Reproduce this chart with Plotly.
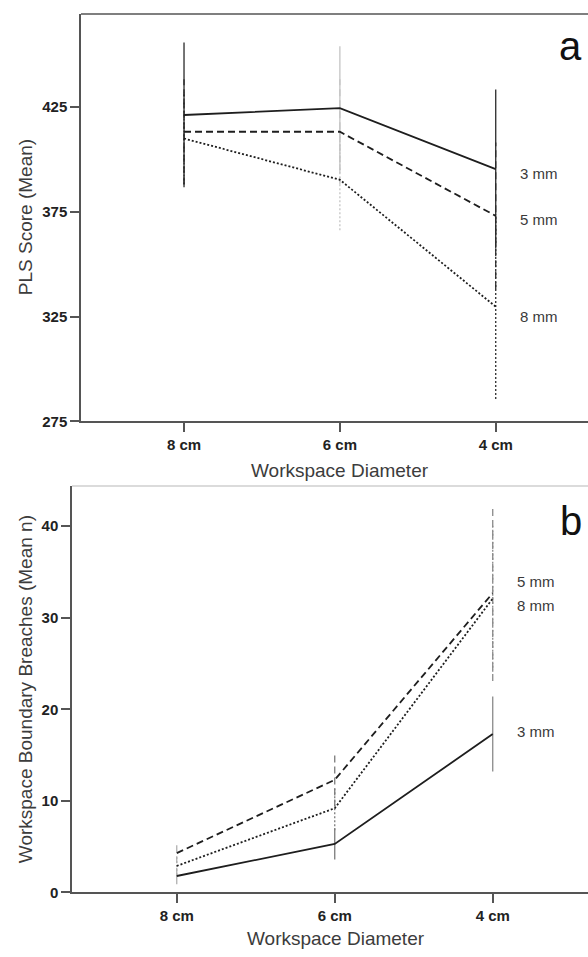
import plotly.graph_objects as go

# ---- data -------------------------------------------------------------
diameters = ["8 cm", "6 cm", "4 cm"]
tool_sizes = ["3 mm", "5 mm", "8 mm"]

# PLS score, mean and error-bar half width per tool size
pls_3mm = [421.1, 424.4, 395.3]
pls_5mm = [413.1, 413.1, 373.0]
pls_8mm = [409.9, 390.2, 329.7]
pls_3mm_err = [34.5, 29.5, 38.0]
pls_5mm_err = [25.0, 25.0, 35.0]
pls_8mm_err = [22.0, 24.0, 44.0]

# Workspace boundary breaches, mean and error-bar half width
brc_3mm = [1.8, 5.3, 17.3]
brc_5mm = [4.3, 12.3, 32.7]
brc_8mm = [2.9, 9.2, 32.1]
brc_3mm_err = [0.9, 1.7, 4.1]
brc_5mm_err = [1.1, 2.9, 9.6]
brc_8mm_err = [1.0, 2.4, 8.0]

pls_ticks = [275, 325, 375, 425]
brc_ticks = [0, 10, 20, 30, 40]

# ---- styling ----------------------------------------------------------
W, H = 588, 957
FONT = "Liberation Sans, Arial, Helvetica, sans-serif"
AXIS_COL = "#555555"
LINE_COL = "#1e1e1e"
DASH = {"3 mm": "solid", "5 mm": "7px,4px", "8 mm": "2px,2px"}
xpos = list(range(len(diameters)))


def px_x(p):
    return p / W


def px_y(p):
    return 1 - p / H


fig = go.Figure()

panels = [
    dict(xa="x", ya="y",
         means={"3 mm": pls_3mm, "5 mm": pls_5mm, "8 mm": pls_8mm},
         errs={"3 mm": pls_3mm_err, "5 mm": pls_5mm_err, "8 mm": pls_8mm_err},
         bar_cols=["#2a2a2a", "#c4c4c4", "#2a2a2a"],
         label_shift={"3 mm": -4, "5 mm": -4, "8 mm": -10}),
    dict(xa="x2", ya="y2",
         means={"3 mm": brc_3mm, "5 mm": brc_5mm, "8 mm": brc_8mm},
         errs={"3 mm": brc_3mm_err, "5 mm": brc_5mm_err, "8 mm": brc_8mm_err},
         bar_cols=["#b0b0b0", "#7a7a7a", "#8a8a8a"],
         label_shift={"3 mm": 3, "5 mm": 12, "8 mm": -7}),
]

annotations = []
for pnl in panels:
    # error bars first, dotted series underneath, solid on top
    for size in ["8 mm", "5 mm", "3 mm"]:
        m, e = pnl["means"][size], pnl["errs"][size]
        for i in xpos:
            fig.add_trace(go.Scatter(
                x=[i, i], y=[m[i] - e[i], m[i] + e[i]],
                mode="lines", xaxis=pnl["xa"], yaxis=pnl["ya"],
                line=dict(color=pnl["bar_cols"][i], width=1.3, dash=DASH[size]),
                hoverinfo="skip", showlegend=False))
    for size in ["8 mm", "5 mm", "3 mm"]:
        m = pnl["means"][size]
        fig.add_trace(go.Scatter(
            x=xpos, y=m, mode="lines", name=size,
            xaxis=pnl["xa"], yaxis=pnl["ya"],
            line=dict(color=LINE_COL, width=1.8, dash=DASH[size]),
            showlegend=False))
        annotations.append(dict(
            x=xpos[-1], y=m[-1], xref=pnl["xa"], yref=pnl["ya"],
            text=size, showarrow=False, xanchor="left", yanchor="middle",
            xshift=22, yshift=pnl["label_shift"][size],
            font=dict(family=FONT, size=15, color="#3a3a3a")))

# panel letters
annotations.append(dict(x=px_x(570), y=px_y(46), xref="paper", yref="paper",
                        text="a", showarrow=False, xanchor="center", yanchor="middle",
                        font=dict(family=FONT, size=40, color="#111111")))
annotations.append(dict(x=px_x(571), y=px_y(525), xref="paper", yref="paper",
                        text="b", showarrow=False, xanchor="center", yanchor="middle",
                        font=dict(family=FONT, size=40, color="#111111")))

# axis titles
title_font = dict(family=FONT, size=19, color="#3c3c3c")
annotations += [
    dict(x=px_x(340), y=px_y(474), xref="paper", yref="paper",
         text="Workspace Diameter", showarrow=False, font=title_font,
         xanchor="center", yanchor="middle"),
    dict(x=px_x(336), y=px_y(946), xref="paper", yref="paper",
         text="Workspace Diameter", showarrow=False, font=title_font,
         xanchor="center", yanchor="middle"),
    dict(x=px_x(25), y=px_y(219), xref="paper", yref="paper",
         text="PLS Score (Mean)", showarrow=False, font=title_font, textangle=-90,
         xanchor="center", yanchor="middle"),
    dict(x=px_x(25), y=px_y(695), xref="paper", yref="paper",
         text="Workspace Boundary Breaches (Mean n)", showarrow=False,
         font=title_font, textangle=-90, xanchor="center", yanchor="middle"),
]

tick_font = dict(family=FONT, size=15, color="#222222", weight="bold")
common_x = dict(tickmode="array", tickvals=xpos, ticktext=diameters,
                ticks="outside", ticklen=9, tickwidth=1.5, tickcolor=AXIS_COL,
                showline=True, linecolor=AXIS_COL, linewidth=1.5,
                showgrid=False, zeroline=False, tickfont=tick_font)
common_y = dict(tickmode="array", ticks="outside", ticklen=9, tickwidth=1.5,
                tickcolor=AXIS_COL, showline=True, linecolor=AXIS_COL,
                linewidth=1.5, showgrid=False, zeroline=False, tickfont=tick_font)

fig.update_layout(
    width=W, height=H,
    margin=dict(l=0, r=0, t=0, b=0),
    paper_bgcolor="white", plot_bgcolor="white",
    font=dict(family=FONT),
    xaxis=dict(domain=[px_x(81), 1.0], range=[-0.661, 2.592],
               anchor="y", **common_x),
    yaxis=dict(domain=[px_y(425), px_y(14)], range=[275, 469.3], anchor="x",
               tickvals=pls_ticks, **common_y),
    xaxis2=dict(domain=[px_x(72), 1.0], range=[-0.663, 2.603],
                anchor="y2", **common_x),
    yaxis2=dict(domain=[px_y(900), px_y(490)], range=[0, 44.4], anchor="x2",
                tickvals=brc_ticks, **common_y),
    annotations=annotations,
    shapes=[
        dict(type="line", xref="paper", yref="paper",
             x0=px_x(81), x1=1.0, y0=px_y(14), y1=px_y(14),
             line=dict(color=AXIS_COL, width=1.5)),
        dict(type="line", xref="paper", yref="paper",
             x0=px_x(72), x1=1.0, y0=px_y(490), y1=px_y(490),
             line=dict(color="#cfcfcf", width=1.5)),
    ],
)

fig.write_html("out.html")
